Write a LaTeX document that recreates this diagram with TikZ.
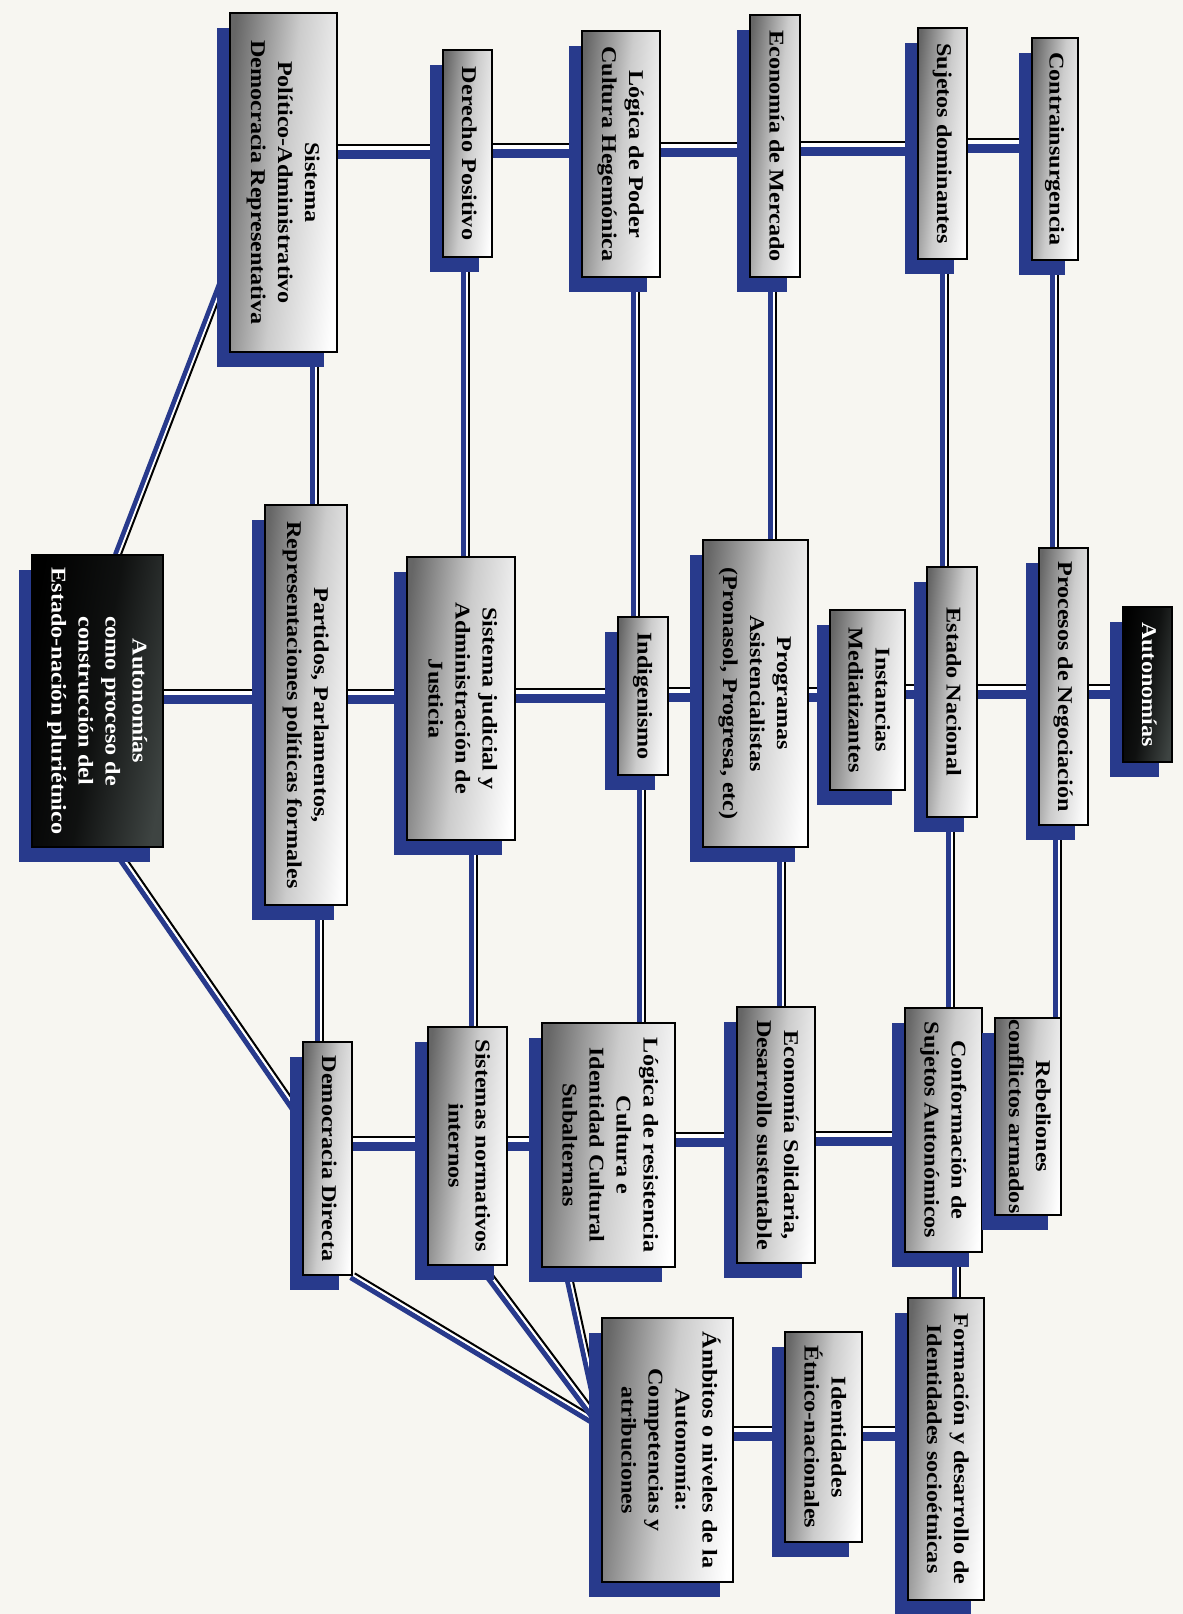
\documentclass[tikz,border=0pt]{standalone}
\usepackage{fontspec}
\setmainfont{Liberation Serif}[FakeStretch=1.15]
\usepackage{graphicx}
\usetikzlibrary{shadows,backgrounds}
\definecolor{paper}{RGB}{247,246,241}
\definecolor{lblue}{RGB}{40,58,140}
\definecolor{darkbox}{RGB}{62,68,66}
\newcommand\rt[1]{\rotatebox{-90}{\begin{tabular}{@{}c@{}}#1\end{tabular}}}
\tikzset{
  box/.style={draw=black, line width=1.1pt, inner sep=0pt,
    top color=black!60, bottom color=white, middle color=black!20, shading angle=84,
    drop shadow={shadow xshift=-13pt, shadow yshift=-15pt, fill=lblue, opacity=1},
    font=\bfseries\fontsize{21}{27}\selectfont},
  dbox/.style={box, top color=black, bottom color=darkbox, middle color=black!75!darkbox,
    shading angle=80, text=white},
  hb/.style={draw=lblue, line width=9pt, transform canvas={yshift=-3.5pt}},
  hw/.style={draw=white, line width=4pt, transform canvas={yshift=3pt}},
  hk/.style={draw=black, line width=2pt, transform canvas={yshift=6pt}},
  vb/.style={draw=lblue, line width=5pt, transform canvas={xshift=-2.5pt}},
  vw/.style={draw=white, line width=2pt, transform canvas={xshift=1pt}},
  vk/.style={draw=black, line width=2pt, transform canvas={xshift=3pt}},
  db/.style={draw=lblue, line width=5pt, transform canvas={shift={(-2pt,-2pt)}}},
  dw/.style={draw=white, line width=2pt, transform canvas={shift={(0.7pt,0.7pt)}}},
  dk/.style={draw=black, line width=2pt, transform canvas={shift={(2.2pt,2.2pt)}}},
}
\newcommand\hlk[3]{%
  \draw[hb] (#1.east |- 0,#3) -- (#2.west |- 0,#3);
  \draw[hw] (#1.east |- 0,#3) -- (#2.west |- 0,#3);
  \draw[hk] (#1.east |- 0,#3) -- (#2.west |- 0,#3);}
\newcommand\vlk[3]{%
  \draw[vb] (#1.south -| #3,0) -- (#2.north -| #3,0);
  \draw[vw] (#1.south -| #3,0) -- (#2.north -| #3,0);
  \draw[vk] (#1.south -| #3,0) -- (#2.north -| #3,0);}
\begin{document}
\begin{tikzpicture}[x=1pt,y=-1pt]
\useasboundingbox (0,0) rectangle (1183,1614);
% root
\node[dbox, minimum width=131pt, minimum height=292pt] (root) at (97.5,701) {\rt{Autonomías\\como proceso de\\construcción del\\Estado-nación pluriétnico}};
% top row
\node[box, minimum width=107pt, minimum height=339pt] (sis) at (283.5,182.5) {\rt{Sistema\\Político-Administrativo\\Democracia Representativa}};
\node[box, minimum width=49pt, minimum height=207pt] (der) at (467.5,153.5) {\rt{Derecho Positivo}};
\node[box, minimum width=78pt, minimum height=246pt] (lpo) at (621,154) {\rt{Lógica de Poder\\Cultura Hegemónica}};
\node[box, minimum width=50pt, minimum height=262pt] (ecm) at (775,146) {\rt{Economía de Mercado}};
\node[box, minimum width=49pt, minimum height=231pt] (suj) at (942.5,143.5) {\rt{Sujetos dominantes}};
\node[box, minimum width=46pt, minimum height=222pt] (con) at (1055,149) {\rt{Contrainsurgencia}};
% middle row
\node[box, minimum width=82pt, minimum height=400pt] (par) at (306,705) {\rt{Partidos, Parlamentos,\\Representaciones políticas formales}};
\node[box, minimum width=108pt, minimum height=283pt] (jus) at (461,698.5) {\rt{Sistema judicial y\\Administración de\\Justicia}};
\node[box, minimum width=50pt, minimum height=158pt] (ind) at (643,696) {\rt{Indigenismo}};
\node[box, minimum width=105pt, minimum height=307pt] (pro) at (755.5,693.5) {\rt{Programas\\Asistencialistas\\(Pronasol, Progresa, etc)}};
\node[box, minimum width=75pt, minimum height=180pt] (ins) at (867.5,700) {\rt{Instancias\\Mediatizantes}};
\node[box, minimum width=50pt, minimum height=250pt] (est) at (952,692) {\rt{Estado Nacional}};
\node[box, minimum width=49pt, minimum height=277pt] (neg) at (1063.5,686.5) {\rt{Procesos de Negociación}};
\node[dbox, minimum width=49pt, minimum height=155pt] (aut) at (1147.5,684.5) {\rt{Autonomías}};
% bottom row
\node[box, minimum width=49pt, minimum height=233pt] (dd) at (327.5,1158.5) {\rt{Democracia Directa}};
\node[box, minimum width=79pt, minimum height=238pt] (sn) at (467.5,1146) {\rt{Sistemas normativos\\internos}};
\node[box, minimum width=133pt, minimum height=244pt] (lr) at (608.5,1145) {\rt{Lógica de resistencia\\Cultura e\\Identidad Cultural\\Subalternas}};
\node[box, minimum width=78pt, minimum height=256pt] (es) at (776,1135) {\rt{Economía Solidaria,\\Desarrollo sustentable}};
\node[box, minimum width=77pt, minimum height=244pt] (cs) at (943.5,1130) {\rt{Conformación de\\Sujetos Autonómicos}};
\node[box, minimum width=66pt, minimum height=197pt] (reb) at (1028,1116.5) {\rt{Rebeliones\\conflictos armados}};
% far bottom
\node[box, minimum width=131pt, minimum height=264pt] (amb) at (667.5,1450) {\rt{Ámbitos o niveles de la\\Autonomía:\\Competencias y\\atribuciones}};
\node[box, minimum width=77pt, minimum height=210pt] (ide) at (823.5,1437) {\rt{Identidades\\Étnico-nacionales}};
\node[box, minimum width=76pt, minimum height=302pt] (form) at (946,1449) {\rt{Formación y desarrollo de\\Identidades socioétnicas}};

\begin{pgfonlayer}{background}
\fill[paper] (0,0) rectangle (1183,1614);
% top row
\hlk{sis}{der}{151}
\hlk{der}{lpo}{150}
\hlk{lpo}{ecm}{149}
\hlk{ecm}{suj}{148}
\hlk{suj}{con}{145}
% middle row
\hlk{root}{par}{696}
\hlk{par}{jus}{696}
\hlk{jus}{ind}{695}
\hlk{ind}{pro}{694}
\hlk{pro}{ins}{694}
\hlk{ins}{est}{691}
\hlk{est}{neg}{691}
\hlk{neg}{aut}{691}
% bottom row
\hlk{dd}{sn}{1143}
\hlk{sn}{lr}{1143}
\hlk{lr}{es}{1139}
\hlk{es}{cs}{1138}
\hlk{cs}{reb}{1137}
% far bottom
\hlk{amb}{ide}{1433}
\hlk{ide}{form}{1433}
% verticals
\vlk{sis}{par}{315}
\vlk{par}{dd}{320}
\vlk{der}{jus}{466}
\vlk{jus}{sn}{474}
\vlk{lpo}{ind}{636}
\vlk{ind}{lr}{642}
\vlk{ecm}{pro}{773}
\vlk{pro}{es}{782}
\vlk{suj}{est}{945}
\vlk{est}{cs}{951}
\vlk{con}{neg}{1055}
\vlk{neg}{reb}{1058}
\vlk{cs}{form}{957}
% diagonals
\draw[vb] ([xshift=20.5pt]root.north) -- ([yshift=-82pt]sis.west);
\draw[vw] ([xshift=20.5pt]root.north) -- ([yshift=-82pt]sis.west);
\draw[vk] ([xshift=20.5pt]root.north) -- ([yshift=-82pt]sis.west);
\draw[db] ([xshift=17.5pt]root.south) -- ([yshift=39.5pt]dd.west);
\draw[dw] ([xshift=17.5pt]root.south) -- ([yshift=39.5pt]dd.west);
\draw[dk] ([xshift=17.5pt]root.south) -- ([yshift=39.5pt]dd.west);
\draw[db] (dd.south east) -- ([yshift=25pt]amb.west);
\draw[dw] (dd.south east) -- ([yshift=25pt]amb.west);
\draw[dk] (dd.south east) -- ([yshift=25pt]amb.west);
\draw[db] ([xshift=14.5pt]sn.south) -- ([yshift=25pt]amb.west);
\draw[dw] ([xshift=14.5pt]sn.south) -- ([yshift=25pt]amb.west);
\draw[dk] ([xshift=14.5pt]sn.south) -- ([yshift=25pt]amb.west);
\draw[vb] ([xshift=-41.5pt]lr.south) -- ([yshift=25pt]amb.west);
\draw[vw] ([xshift=-41.5pt]lr.south) -- ([yshift=25pt]amb.west);
\draw[vk] ([xshift=-41.5pt]lr.south) -- ([yshift=25pt]amb.west);
\end{pgfonlayer}
\end{tikzpicture}
\end{document}
